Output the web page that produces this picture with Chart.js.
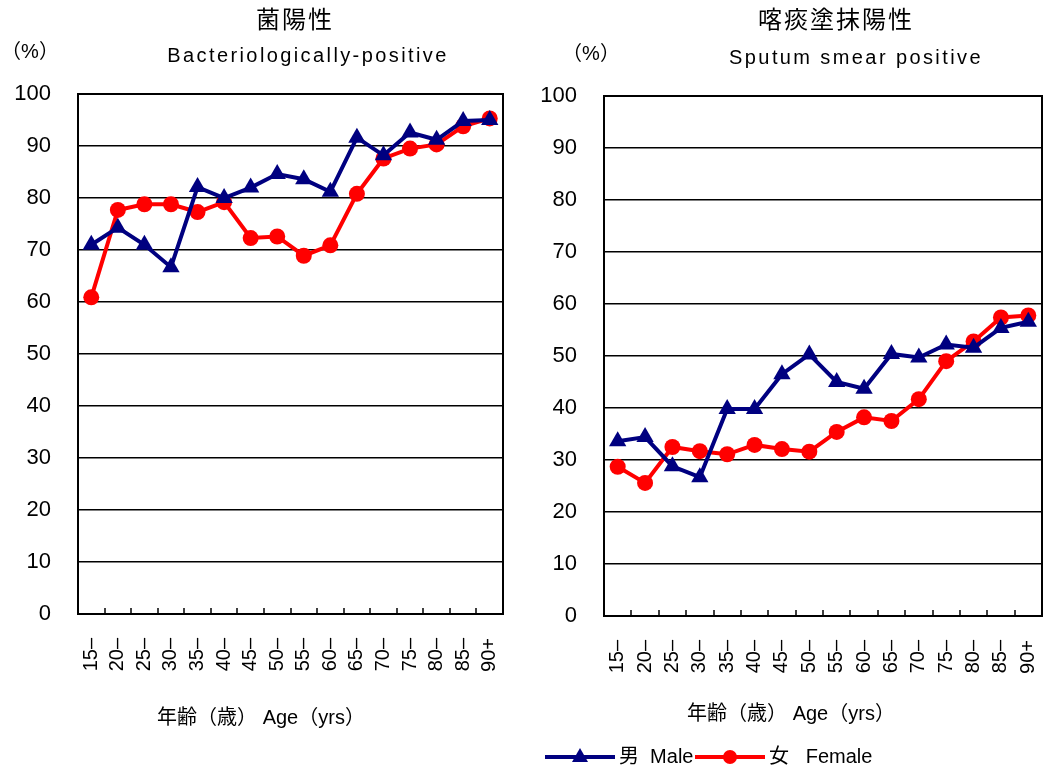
<!DOCTYPE html>
<html lang="ja">
<head>
<meta charset="UTF-8">
<title>菌陽性 / 喀痰塗抹陽性</title>
<script src="https://cdn.jsdelivr.net/npm/chart.js"></script>
<style>
  * { margin: 0; padding: 0; box-sizing: border-box; }
  body { background: #fff; width: 1044px; height: 774px; overflow: hidden; position: relative; }
  canvas { position: absolute; left: 0; top: 0; }
</style>
</head>
<body>
<canvas id="chartBac" width="1044" height="774"></canvas>
<canvas id="chartSmear" width="1044" height="774"></canvas>
<script>
// categorias (idade)
const ageGroups = ['15–', '20–', '25–', '30–', '35–', '40–', '45–', '50–', '55–', '60–', '65–', '70–', '75–', '80–', '85–', '90+'];
const yTicks = [0, 10, 20, 30, 40, 50, 60, 70, 80, 90, 100];

// 菌陽性 Bacteriologically-positive
const bacMale   = [71.0, 74.3, 71.0, 66.7, 82.1, 80.0, 82.0, 84.6, 83.6, 81.2, 91.6, 88.2, 92.6, 91.2, 94.8, 95.0];
const bacFemale = [60.9, 77.7, 78.8, 78.8, 77.3, 79.2, 72.3, 72.6, 68.9, 70.9, 80.8, 87.6, 89.5, 90.3, 93.8, 95.3];

// 喀痰塗抹陽性 Sputum smear positive
const smearMale   = [33.6, 34.4, 28.8, 26.7, 39.8, 39.8, 46.5, 50.3, 45.0, 43.7, 50.4, 49.7, 52.2, 51.6, 55.4, 56.6];
const smearFemale = [28.7, 25.6, 32.5, 31.7, 31.1, 32.9, 32.1, 31.6, 35.4, 38.2, 37.5, 41.7, 49.0, 52.8, 57.4, 57.8];

const maleLabel = '男  Male';
const femaleLabel = '女   Female';
const maleColor = '#000080';
const femaleColor = '#ff0000';

const FONT = "'Liberation Sans', 'Noto Sans CJK JP', sans-serif";

// textos desenhados no canvas
const textPlugin = {
    id: 'textos',
    afterDraw(chart, args, opts) {
        const ctx = chart.ctx;
        ctx.save();
        ctx.fillStyle = '#000';
        ctx.textBaseline = 'middle';
        (opts.items || []).forEach(t => {
            ctx.font = t.size + 'px ' + FONT;
            ctx.letterSpacing = (t.spacing || 0) + 'px';
            ctx.textAlign = t.align || 'center';
            ctx.fillText(t.text, t.x, t.y);
        });
        ctx.restore();
    }
};

// moldura da area do grafico + marcas do eixo x para dentro
const framePlugin = {
    id: 'moldura',
    beforeDatasetsDraw(chart) {
        const a = chart.chartArea;
        const xs = chart.scales.x;
        const ctx = chart.ctx;
        ctx.save();
        ctx.strokeStyle = '#000';
        ctx.lineWidth = 2;
        ctx.strokeRect(a.left, a.top, a.right - a.left, a.bottom - a.top);
        ctx.lineWidth = 1.5;
        ctx.beginPath();
        for (let i = 0; i < ageGroups.length - 1; i++) {
            const x = Math.round((xs.getPixelForTick(i) + xs.getPixelForTick(i + 1)) / 2);
            ctx.moveTo(x, a.bottom);
            ctx.lineTo(x, a.bottom - 6);
        }
        ctx.stroke();
        ctx.restore();
    }
};

// legenda com linha + marcador
const legendPlugin = {
    id: 'legendaLinha',
    afterDraw(chart, args, opts) {
        if (!opts.show) return;
        const ctx = chart.ctx;
        ctx.save();
        chart.data.datasets.forEach((ds, i) => {
            const x0 = opts.x[i], y = opts.y;
            ctx.strokeStyle = ds.borderColor;
            ctx.lineWidth = 4;
            ctx.beginPath();
            ctx.moveTo(x0, y);
            ctx.lineTo(x0 + 70, y);
            ctx.stroke();
            ctx.fillStyle = ds.borderColor;
            const cx = x0 + 35;
            ctx.beginPath();
            if (ds.pointStyle === 'triangle') {
                ctx.moveTo(cx, y - 9);
                ctx.lineTo(cx + 8, y + 5);
                ctx.lineTo(cx - 8, y + 5);
                ctx.closePath();
            } else {
                ctx.arc(cx, y, 7, 0, Math.PI * 2);
            }
            ctx.fill();
            ctx.fillStyle = '#000';
            ctx.font = '20px ' + FONT;
            ctx.textAlign = 'left';
            ctx.textBaseline = 'middle';
            ctx.fillText(ds.label, x0 + 74, y);
        });
        ctx.restore();
    }
};

function criarGrafico(id, male, female, padding, textos, legenda) {
    return new Chart(document.getElementById(id), {
        type: 'line',
        data: {
            labels: ageGroups,
            datasets: [
                {
                    label: maleLabel, data: male,
                    borderColor: maleColor, backgroundColor: maleColor,
                    borderWidth: 4, pointStyle: 'triangle', pointRadius: 10,
                    pointBorderWidth: 0, tension: 0
                },
                {
                    label: femaleLabel, data: female,
                    borderColor: femaleColor, backgroundColor: femaleColor,
                    borderWidth: 4, pointStyle: 'circle', pointRadius: 8,
                    pointBorderWidth: 0, tension: 0
                }
            ]
        },
        options: {
            responsive: false,
            animation: false,
            layout: { padding: padding, autoPadding: false },
            plugins: {
                legend: { display: false },
                tooltip: { enabled: false },
                textos: { items: textos },
                legendaLinha: legenda
            },
            scales: {
                x: {
                    offset: true,
                    grid: { display: false },
                    border: { display: true, color: '#000', width: 2 },
                    ticks: { autoSkip: false, maxRotation: 90, minRotation: 90, padding: 16, color: '#000', font: { family: FONT, size: 20 } },
                    afterFit: s => { s.height = 100; s.paddingLeft = 0; s.paddingRight = 0; }
                },
                y: {
                    min: 0, max: 100,
                    afterBuildTicks: s => { s.ticks = yTicks.map(v => ({ value: v })); },
                    grid: { color: '#000', lineWidth: 1.5, drawTicks: false },
                    border: { display: true, color: '#000', width: 2 },
                    ticks: { padding: 27, color: '#000', font: { family: FONT, size: 22 } },
                    afterFit: s => { s.width = 80; }
                }
            }
        },
        plugins: [framePlugin, textPlugin, legendPlugin]
    });
}

criarGrafico('chartBac', bacMale, bacFemale,
    { left: 78 - 80, right: 1044 - 503, top: 94, bottom: 774 - 614 - 100 },
    [
        { text: '菌陽性', x: 295, y: 21, size: 24, spacing: 2 },
        { text: 'Bacteriologically-positive', x: 308, y: 56, size: 20, spacing: 2.4 },
        { text: '（%）', x: 30, y: 52, size: 20 },
        { text: '年齢（歳） Age（yrs）', x: 261, y: 718, size: 20 }
    ],
    { show: false });

criarGrafico('chartSmear', smearMale, smearFemale,
    { left: 604 - 80, right: 2, top: 96, bottom: 774 - 616 - 100 },
    [
        { text: '喀痰塗抹陽性', x: 836, y: 21, size: 24, spacing: 2 },
        { text: 'Sputum smear positive', x: 856, y: 58, size: 20, spacing: 2.4 },
        { text: '（%）', x: 591, y: 54, size: 20 },
        { text: '年齢（歳） Age（yrs）', x: 791, y: 714, size: 20 }
    ],
    { show: true, x: [545, 695], y: 757 });
</script>
</body>
</html>
